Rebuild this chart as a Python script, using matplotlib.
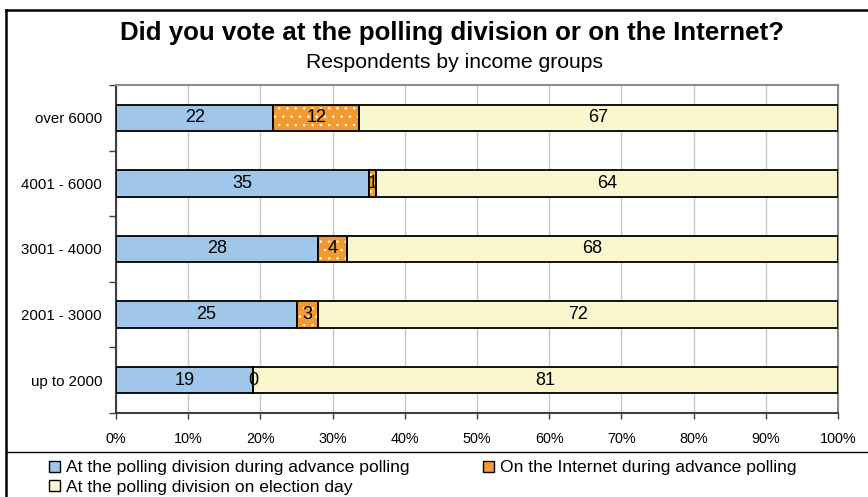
import matplotlib
matplotlib.use("Agg")
import matplotlib.pyplot as plt
import numpy as np
from matplotlib.patches import Patch
from matplotlib.lines import Line2D

plt.rcParams['font.family'] = ['Liberation Sans', 'DejaVu Sans']
plt.rcParams['hatch.linewidth'] = 0.6

categories = ["up to 2000", "2001 - 3000", "3001 - 4000", "4001 - 6000", "over 6000"]
advance_polling = [19, 25, 28, 35, 22]
internet = [0, 3, 4, 1, 12]
election_day = [81, 72, 68, 64, 67]
series_names = ["At the polling division during advance polling",
                "On the Internet during advance polling",
                "At the polling division on election day"]
xticks = [0, 10, 20, 30, 40, 50, 60, 70, 80, 90, 100]

colors = ["#A0C6EA", "#F3992F", "#FAF7CF"]

W, H = 868, 497
fig = plt.figure(figsize=(W / 100, H / 100), dpi=100)
ax = fig.add_axes([116 / W, 1 - 413 / H, (838 - 116) / W, (413 - 85) / H])

data = np.array([advance_polling, internet, election_day], dtype=float)
totals = data.sum(axis=0)
pct = data / totals * 100
y = np.arange(len(categories))
h = 0.4
left = np.zeros(len(categories))
for i in range(3):
    if i == 1:
        ax.barh(y, pct[i], left=left, height=h, color=colors[i], edgecolor="white",
                linewidth=0, hatch="..", zorder=3)
        ax.barh(y, pct[i], left=left, height=h, color="none", edgecolor="black",
                linewidth=1.3, zorder=4)
    else:
        ax.barh(y, pct[i], left=left, height=h, color=colors[i], edgecolor="black",
                linewidth=1.3, zorder=3)
    for j in range(len(categories)):
        ax.text(left[j] + pct[i][j] / 2, y[j], f"{int(data[i][j])}", ha="center",
                va="center", fontsize=13, zorder=5)
    left += pct[i]

ax.set_xlim(0, 100)
ax.set_ylim(-0.5, len(categories) - 0.5)
ax.set_xticks(xticks)
ax.set_xticklabels([f"{t}%" for t in xticks], fontsize=10.4)
ax.set_yticks(y)
ax.set_yticklabels(categories, fontsize=10.8)
ax.tick_params(axis="y", length=0, pad=10)
ax.set_yticks(np.arange(-0.5, len(categories), 1), minor=True)
ax.tick_params(axis="y", which="minor", length=5, width=1, color="#404040")
ax.tick_params(axis="x", length=4, width=1, color="#404040", pad=10)
ax.grid(axis="x", color="#C8C8C8", linewidth=1, zorder=0)
ax.set_axisbelow(True)
for s in ["top", "right"]:
    ax.spines[s].set_color("#8C8C8C")
    ax.spines[s].set_linewidth(1.5)
for s in ["left", "bottom"]:
    ax.spines[s].set_color("#404040")
    ax.spines[s].set_linewidth(1.5)

fig.text(452 / W, 1 - 33 / H, "Did you vote at the polling division or on the Internet?",
         ha="center", va="center", fontsize=18.6, fontweight="bold")
fig.text(454 / W, 1 - 62 / H, "Respondents by income groups", ha="center", va="center",
         fontsize=15.2)

# figure border and legend separator
fig.add_artist(Line2D([6 / W, 6 / W], [0, 1 - 10 / H], color="black", linewidth=1.8,
                      transform=fig.transFigure))
fig.add_artist(Line2D([6 / W, 1], [1 - 10 / H, 1 - 10 / H], color="black", linewidth=1.8,
                      transform=fig.transFigure))
fig.add_artist(Line2D([6 / W, 1], [1 - 452 / H, 1 - 452 / H], color="black", linewidth=1,
                      transform=fig.transFigure))

handles = [Patch(facecolor=colors[0], edgecolor="black", linewidth=1),
           Patch(facecolor=colors[2], edgecolor="black", linewidth=1),
           Patch(facecolor=colors[1], edgecolor="black", linewidth=1)]
labels = [series_names[0], series_names[2], series_names[1]]
fig.legend(handles, labels, ncol=2, loc="upper left", bbox_to_anchor=(38 / W, 1 - 449 / H),
           frameon=False, fontsize=12.6, handlelength=0.6, handleheight=0.6,
           handletextpad=0.35, columnspacing=4.2, labelspacing=0.25, borderpad=0.15)

fig.savefig("out.png", dpi=100)
